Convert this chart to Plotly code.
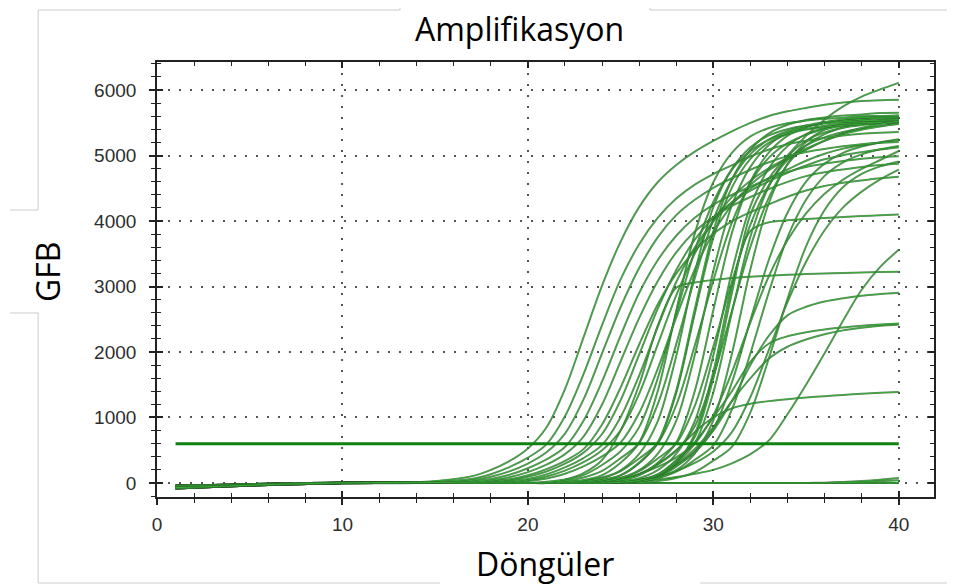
import plotly.graph_objects as go

# ---------------- data ----------------
CYCLES = [1, 3, 6, 10, 14, 17, 18, 19, 20, 21, 22, 23, 24, 25, 26, 27, 28,
          29, 30, 31, 32, 33, 34, 35, 36, 37, 38, 39, 40]

E1 = [-70, -55, -25, 0, 10, 105, 199, 333, 527, 848, 1433, 2223, 3013, 3686, 4212, 4592, 4856, 5060, 5224, 5370, 5499, 5604, 5675, 5727, 5774, 5809, 5832, 5844, 5850]
E2 = [-50, -40, -15, 5, 5, 64, 134, 241, 386, 590, 1018, 1662, 2412, 3109, 3645, 4047, 4342, 4556, 4717, 4851, 4985, 5092, 5172, 5226, 5269, 5306, 5333, 5349, 5360]
E3 = [-85, -60, -30, -5, 0, 42, 94, 177, 297, 469, 755, 1276, 1980, 2683, 3282, 3751, 4090, 4324, 4507, 4653, 4783, 4897, 4991, 5054, 5101, 5142, 5174, 5194, 5205]
E4 = [-40, -30, -10, 5, 0, 25, 60, 125, 225, 360, 550, 950, 1550, 2250, 2900, 3400, 3775, 4050, 4250, 4400, 4525, 4650, 4750, 4825, 4875, 4915, 4950, 4975, 4990]
E5 = [-60, -45, -20, 0, 5, 10, 39, 88, 166, 279, 440, 709, 1198, 1858, 2518, 3081, 3521, 3839, 4059, 4230, 4367, 4489, 4597, 4685, 4743, 4787, 4826, 4856, 4875]
E6 = [-70, -55, -25, 0, 10, 0, 24, 56, 118, 212, 338, 517, 893, 1457, 2115, 2726, 3196, 3549, 3807, 3995, 4136, 4254, 4371, 4465, 4536, 4583, 4620, 4653, 4677]
E7 = [-50, -40, -15, 5, 5, 0, 10, 41, 93, 175, 294, 464, 748, 1264, 1961, 2657, 3251, 3715, 4051, 4283, 4463, 4608, 4737, 4850, 4943, 5005, 5052, 5093, 5124]
E8 = [-85, -60, -30, -5, 0, 0, 0, 26, 63, 132, 238, 381, 582, 1005, 1640, 2381, 3068, 3597, 3994, 4285, 4497, 4655, 4787, 4920, 5026, 5105, 5158, 5200, 5237]
M1 = [-40, -30, -10, 5, 0, 0, 0, 11, 44, 100, 189, 317, 500, 806, 1362, 2113, 2863, 3503, 4003, 4365, 4615, 4809, 4965, 5104, 5226, 5326, 5393, 5443, 5488]
M2 = [-60, -45, -20, 0, 5, 0, 0, 0, 28, 67, 141, 253, 405, 618, 1068, 1742, 2529, 3260, 3822, 4243, 4552, 4777, 4946, 5086, 5227, 5339, 5423, 5480, 5524]
M3 = [-70, -55, -25, 0, 10, 0, 0, 0, 0, 17, 55, 121, 275, 484, 853, 1595, 2585, 3548, 4290, 4785, 5071, 5242, 5341, 5407, 5456, 5489, 5500, 5505, 5510]
M4 = [-50, -40, -15, 5, 5, 0, 0, 0, 0, 6, 33, 84, 184, 379, 614, 1200, 2120, 3125, 4018, 4631, 5022, 5245, 5374, 5457, 5513, 5552, 5580, 5585, 5590]
B1 = [-85, -60, -30, -5, 0, 0, 0, 0, 0, 0, 17, 45, 118, 308, 616, 1400, 2632, 3808, 4592, 5040, 5292, 5421, 5494, 5533, 5561, 5578, 5600, 5605, 5610]
B2 = [-40, -30, -10, 5, 0, 0, 0, 0, 0, 0, 11, 28, 72, 194, 443, 942, 1939, 3213, 4210, 4792, 5125, 5307, 5402, 5457, 5490, 5512, 5529, 5540, 5545]
B3 = [-60, -45, -20, 0, 5, 0, 0, 0, 0, 0, 0, 17, 45, 119, 311, 622, 1413, 2656, 3842, 4633, 5085, 5339, 5469, 5543, 5582, 5610, 5627, 5650, 5655]
B4 = [-70, -55, -25, 0, 10, 0, 0, 0, 0, 0, 0, 17, 44, 116, 303, 605, 1375, 2585, 3740, 4510, 4950, 5198, 5324, 5396, 5434, 5462, 5478, 5500, 5505]
B5 = [-50, -40, -15, 5, 5, 0, 0, 0, 0, 0, 0, 11, 28, 73, 195, 446, 949, 1953, 3236, 4241, 4827, 5162, 5346, 5441, 5496, 5530, 5552, 5569, 5580]
B6 = [-85, -60, -30, -5, 0, 0, 0, 0, 0, 0, 6, 33, 83, 182, 375, 607, 1187, 2098, 3091, 3974, 4582, 4968, 5189, 5316, 5399, 5454, 5492, 5520, 5525]
B7 = [-40, -30, -10, 5, 0, 0, 0, 0, 0, 0, 0, 0, 17, 45, 118, 309, 617, 1403, 2637, 3815, 4600, 5049, 5301, 5430, 5503, 5543, 5571, 5588, 5610]
B8 = [-60, -45, -20, 0, 5, 0, 0, 0, 0, 0, 0, 5, 33, 82, 181, 373, 603, 1178, 2082, 3069, 3946, 4548, 4932, 5151, 5277, 5359, 5414, 5453, 5480]
B9 = [-70, -55, -25, 0, 10, 0, 0, 0, 0, 0, 0, 0, 11, 28, 72, 195, 445, 945, 1946, 3225, 4226, 4809, 5143, 5326, 5421, 5477, 5510, 5532, 5549]
B10 = [-50, -40, -15, 5, 5, 0, 0, 0, 0, 0, 0, 0, 0, 17, 44, 116, 304, 608, 1383, 2599, 3760, 4535, 4977, 5226, 5353, 5425, 5464, 5491, 5508]
L1 = [-85, -60, -30, -5, 0, 0, 0, 0, 0, 0, 0, 0, 17, 56, 123, 280, 492, 866, 1621, 2627, 3606, 4360, 4863, 5154, 5327, 5428, 5495, 5545, 5579]
L2 = [-40, -30, -10, 5, 0, 0, 0, 0, 0, 0, 0, 0, 27, 65, 136, 245, 392, 600, 1036, 1690, 2453, 3161, 3706, 4115, 4415, 4633, 4796, 4932, 5069]
L3 = [-60, -45, -20, 0, 5, 0, 0, 0, 0, 0, 0, 0, 0, 16, 53, 116, 265, 466, 820, 1534, 2486, 3412, 4126, 4602, 4877, 5041, 5137, 5200, 5248]
L4 = [-70, -55, -25, 0, 10, 0, 0, 0, 0, 0, 0, 0, 0, 11, 28, 73, 197, 450, 957, 1971, 3265, 4279, 4870, 5208, 5394, 5489, 5546, 5579, 5602]
L5 = [-50, -40, -15, 5, 5, 0, 0, 0, 0, 0, 0, 0, 0, 5, 31, 78, 172, 354, 573, 1120, 1980, 2918, 3751, 4324, 4689, 4897, 5017, 5095, 5147]
L6 = [-85, -60, -30, -5, 0, 0, 0, 0, 0, 0, 0, 0, 0, 11, 43, 96, 182, 306, 482, 777, 1313, 2037, 2760, 3377, 3859, 4208, 4449, 4636, 4786]
L7 = [-40, -30, -10, 5, 0, 0, 0, 0, 0, 0, 0, 0, 0, 0, 5, 30, 75, 166, 341, 552, 1079, 1908, 2811, 3614, 4167, 4518, 4719, 4834, 4910]
S4100 = [-60, -45, -20, 0, 5, 0, 0, 0, 0, 0, 0, 0, 0, 10, 40, 120, 300, 750, 1700, 3000, 3850, 3980, 4010, 4030, 4045, 4060, 4075, 4088, 4100]
S3226 = [-70, -55, -25, 0, 10, 0, 0, 0, 0, 0, 50, 150, 350, 800, 1500, 2400, 2980, 3060, 3100, 3130, 3150, 3165, 3178, 3190, 3200, 3208, 3215, 3221, 3226]
S2905 = [-50, -40, -15, 5, 5, 0, 0, 0, 0, 0, 0, 0, 0, 0, 20, 80, 250, 480, 800, 1250, 1800, 2250, 2560, 2690, 2770, 2820, 2860, 2885, 2905]
S2450A = [-85, -60, -30, -5, 0, 0, 0, 0, 0, 0, 0, 0, 0, 10, 40, 130, 350, 620, 1000, 1400, 1850, 2130, 2240, 2300, 2345, 2375, 2400, 2420, 2437]
S2450B = [-40, -30, -10, 5, 0, 0, 0, 0, 0, 0, 0, 0, 0, 5, 30, 100, 280, 520, 850, 1250, 1600, 1900, 2080, 2190, 2270, 2330, 2370, 2400, 2420]
S1400 = [-60, -45, -20, 0, 5, 0, 0, 0, 0, 0, 0, 0, 10, 50, 140, 290, 500, 780, 1000, 1140, 1210, 1250, 1280, 1305, 1325, 1345, 1362, 1378, 1391]
S6100 = [-70, -55, -25, 0, 10, 0, 0, 0, 0, 0, 0, 0, 0, 10, 40, 130, 330, 700, 1600, 2900, 4100, 4650, 5000, 5300, 5550, 5750, 5900, 6010, 6110]
S3560 = [-50, -40, -15, 5, 5, 0, 0, 0, 0, 0, 0, 0, 5, 15, 30, 55, 90, 140, 200, 300, 440, 650, 1050, 1500, 1980, 2480, 2950, 3300, 3560]
T1 = [-85, -60, -30, -5, 0, 0, 0, 0, 0, 0, 0, 0, 0, 0, 0, 0, 0, 0, 0, 0, 0, 0, 0, 0, 5, 15, 30, 50, 75]
T2 = [-40, -30, -10, 5, 0, 0, 0, 0, 0, 0, 0, 0, 0, 0, 0, 0, 0, 0, 0, 0, 0, 0, 0, 0, 0, 5, 12, 25, 40]
Z1 = [-60, -45, -20, 0, 5, 0, 0, 0, 0, 0, 0, 0, 0, 0, 0, 0, 0, 0, 0, 0, 0, 0, 0, 0, 0, 0, 0, 0, 0]
Z2 = [-70, -55, -25, 0, 10, 0, 0, 0, 0, 0, 0, 0, 0, 0, 0, 0, 0, 0, 0, 0, 0, 0, 0, 0, 0, 0, 0, 0, 0]

CURVES = [Z1, Z2, T1, T2, S3560, S1400, S2450B, S2450A, S2905, S3226, S4100,
          L7, L6, L5, L4, L3, L2, L1, B10, B9, B8, B7, B6, B5, B4, B3, B2, B1,
          M4, M3, M2, M1, E8, E7, E6, E5, E4, E3, E2, E1, S6100]

THRESHOLD_CYCLES = [1, 40]
THRESHOLD_VALUES = [600, 600]

X_TICKS = [0, 10, 20, 30, 40]
Y_TICKS = [0, 1000, 2000, 3000, 4000, 5000, 6000]

TITLE = "Amplifikasyon"
X_TITLE = "Döngüler"
Y_TITLE = "GFB"

for c in CURVES:
    assert len(c) == len(CYCLES), len(c)

# ---------------- figure ----------------
fig = go.Figure()

for vals in CURVES:
    fig.add_trace(go.Scatter(x=CYCLES, y=vals, mode="lines",
                             line=dict(color="rgba(45,90,45,0.7)", width=2.0,
                                       shape="spline", smoothing=0.9),
                             hoverinfo="skip", showlegend=False))
    fig.add_trace(go.Scatter(x=CYCLES, y=vals, mode="lines",
                             line=dict(color="rgb(50,175,50)", width=1.0,
                                       shape="spline", smoothing=0.9),
                             hoverinfo="skip", showlegend=False))

fig.add_trace(go.Scatter(x=THRESHOLD_CYCLES, y=THRESHOLD_VALUES, mode="lines",
                         line=dict(color="#0f820f", width=3),
                         hoverinfo="skip", showlegend=False))

# empty trace that creates the overlay axes used for the inner tick marks
fig.add_trace(go.Scatter(x=[], y=[], xaxis="x2", yaxis="y2", showlegend=False))

XR = [0, 41.9]
YR = [-214, 6428]
AX = "#222222"
tickfont = dict(family="Liberation Sans, Arial, sans-serif", size=19, color="#2e2e2e")
grid = dict(showgrid=True, gridcolor="#555555", gridwidth=1.5, griddash="2px,9px")

fig.update_layout(
    width=947, height=579,
    margin=dict(l=149, r=21, t=54, b=90),
    paper_bgcolor="white", plot_bgcolor="white",
    showlegend=False,
    xaxis=dict(range=XR, tickvals=X_TICKS, ticks="outside", ticklen=6, tickwidth=1.5,
               tickcolor=AX, showline=True, linecolor=AX, linewidth=1.6, mirror=True,
               zeroline=False, tickfont=tickfont, ticklabelstandoff=3,
               minor=dict(ticks="outside", dtick=2, tick0=0, ticklen=4, tickwidth=1.3,
                          tickcolor=AX, showgrid=False),
               **grid),
    yaxis=dict(range=YR, tickvals=Y_TICKS, ticks="outside", ticklen=6, tickwidth=1.5,
               tickcolor=AX, showline=True, linecolor=AX, linewidth=1.6, mirror=True,
               zeroline=False, tickfont=tickfont, ticklabelstandoff=9,
               minor=dict(ticks="outside", dtick=200, tick0=0, ticklen=4, tickwidth=1.3,
                          tickcolor=AX, showgrid=False),
               **grid),
    xaxis2=dict(range=XR, overlaying="x", anchor="y2", side="bottom", tickvals=X_TICKS,
                ticks="inside", ticklen=6, tickwidth=1.5, tickcolor=AX, mirror="ticks",
                showline=True, linecolor=AX, linewidth=1.6, showgrid=False,
                zeroline=False, showticklabels=False,
                minor=dict(ticks="inside", dtick=2, tick0=0, ticklen=4, tickwidth=1.3,
                           tickcolor=AX, showgrid=False)),
    yaxis2=dict(range=YR, overlaying="y", anchor="x2", side="left", tickvals=Y_TICKS,
                ticks="inside", ticklen=6, tickwidth=1.5, tickcolor=AX, mirror="ticks",
                showline=True, linecolor=AX, linewidth=1.6, showgrid=False,
                zeroline=False, showticklabels=False,
                minor=dict(ticks="inside", dtick=200, tick0=0, ticklen=4, tickwidth=1.3,
                           tickcolor=AX, showgrid=False)),
)

title_font = dict(family="Open Sans, Noto Sans, sans-serif", size=32, color="black")
fig.add_annotation(text=TITLE, xref="paper", yref="paper", x=0.467, y=1.078,
                   xanchor="center", yanchor="middle", showarrow=False, font=title_font)
fig.add_annotation(text=X_TITLE, xref="paper", yref="paper", x=0.4994, y=-0.152,
                   xanchor="center", yanchor="middle", showarrow=False, font=title_font)
fig.add_annotation(text=Y_TITLE, xref="paper", yref="paper", x=-0.1416, y=0.517,
                   xanchor="center", yanchor="middle", showarrow=False, textangle=-90,
                   font=title_font)

# faint slide-frame lines around the chart
frame = [(-0.153, 1.1195, 0.3127, 1.1195), (0.3127, 1.1425, 0.3127, 1.1195),
         (0.6345, 1.1195, 1.03, 1.1195), (0.6345, 1.1425, 0.6345, 1.1195),
         (-0.153, 1.1195, -0.153, 0.6598), (-0.189, 0.6598, -0.153, 0.6598),
         (-0.189, 0.423, -0.153, 0.423), (-0.153, 0.423, -0.153, -0.1977),
         (-0.153, -0.1977, 0.364, -0.1977), (0.699, -0.1977, 1.03, -0.1977)]
for x0, y0, x1, y1 in frame:
    fig.add_shape(type="line", xref="paper", yref="paper", x0=x0, y0=y0, x1=x1, y1=y1,
                  line=dict(color="#cccccc", width=1))

fig.write_html("out.html")
